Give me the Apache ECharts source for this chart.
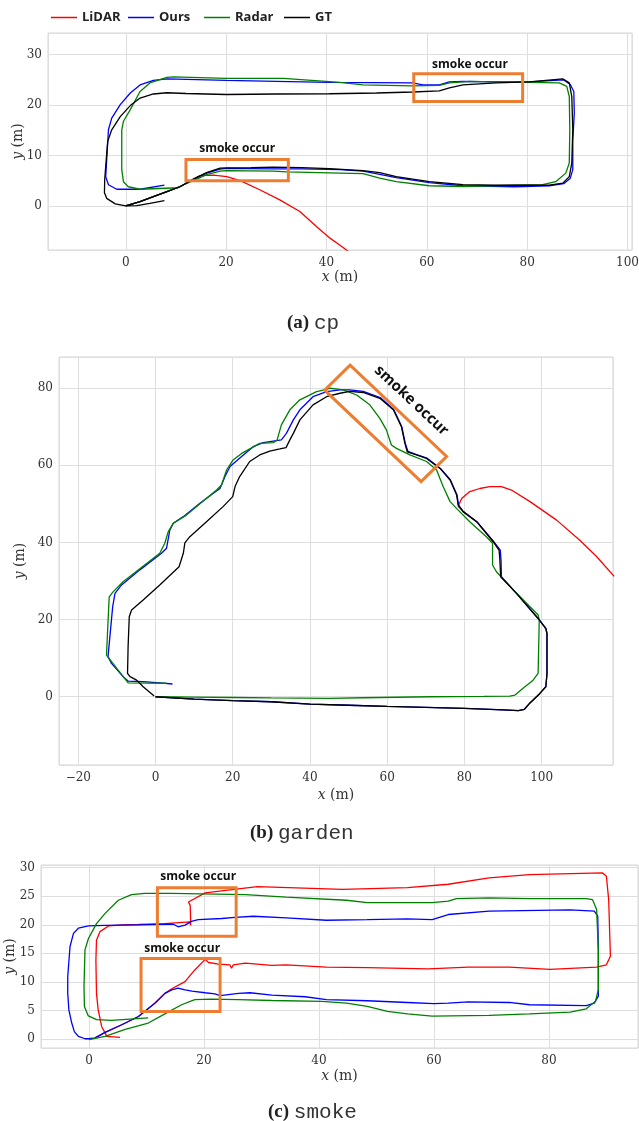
<!DOCTYPE html>
<html><head><meta charset="utf-8">
<script src="https://cdn.jsdelivr.net/npm/echarts@6/dist/echarts.min.js"></script>
<style>html,body{margin:0;padding:0;background:#fff}#c{width:639px;height:1121px}</style>
</head><body><div id="c"></div>
<script>
// ---------- names / colours ----------
const seriesNames = ['LiDAR', 'Ours', 'Radar', 'GT'];
const seriesColors = ['#ff0000', '#0000ff', '#008000', '#000000'];
const captions = [['(a)', 'cp'], ['(b)', 'garden'], ['(c)', 'smoke']];
const annotationText = 'smoke occur';

// ---------- tick labels ----------
const cpXTicks = [0, 20, 40, 60, 80, 100];
const cpYTicks = [0, 10, 20, 30];
const gardenXTicks = [-20, 0, 20, 40, 60, 80, 100];
const gardenYTicks = [0, 20, 40, 60, 80];
const smokeXTicks = [0, 20, 40, 60, 80];
const smokeYTicks = [0, 5, 10, 15, 20, 25, 30];

// ---------- (a) cp ----------
const cpLidar = [[0,0],[2.85,0.86],[5.5,1.85],[8.2,2.85],[10.8,3.8],[13.5,5.3],[14.8,6.0],[17.5,6.1],[20.1,5.8],[22.8,5.0],[26.7,3.2],[30.7,1.2],[34.7,-1.1],[38.0,-4.1],[40.7,-6.4],[42.7,-7.8],[44.6,-9.2]];
const cpOurs = [[0,0],[2.85,0.86],[5.5,1.85],[8.2,2.85],[10.8,3.8],[13.5,5.3],[16.1,6.5],[18.8,7.3],[20.1,7.45],[29.4,7.35],[35,7.35],[42.7,7.2],[47.3,6.9],[53.9,5.6],[60.5,4.6],[67.2,4.0],[77.5,3.8],[84.4,4.0],[87.3,4.4],[88.6,5.5],[89.1,7.2],[89.1,13.1],[89.4,18.4],[89.3,22.7],[88.6,24.1],[87.3,25.0],[80.4,24.6],[73.8,24.6],[67.2,24.7],[64.5,24.6],[62.5,24.0],[59.2,24.0],[57.2,24.4],[40.6,24.5],[30,24.7],[20.1,24.9],[8.2,25.2],[5.5,24.9],[2.85,24.0],[0.9,22.4],[-1.1,20.1],[-2.8,17.4],[-3.45,15.1],[-3.8,9.1],[-4.0,5.8],[-3.45,4.2],[-1.8,3.3],[2.85,3.3],[7.7,4.1]];
const cpRadar = [[0,0],[2.85,0.86],[5.5,1.85],[8.2,2.85],[10.8,3.9],[13.5,5.0],[16.1,6.2],[18.8,6.9],[20.1,7.0],[29.4,6.9],[32.1,6.75],[42.7,6.5],[47.3,6.4],[50.6,5.5],[53.9,4.8],[60.5,4.0],[67.2,3.85],[77.1,4.1],[83.1,4.2],[85.7,4.8],[87.7,6.5],[88.4,8.5],[88.5,15.1],[88.4,21.7],[87.9,23.7],[86.4,24.4],[80.4,24.5],[73.8,24.6],[68.5,24.7],[64.5,24.4],[62.5,23.9],[57.2,23.8],[47.3,24.0],[42.7,24.5],[31.4,25.3],[20.1,25.3],[9.5,25.6],[8.2,25.5],[4.8,24.4],[2.85,22.7],[0.9,19.1],[-0.46,16.8],[-0.8,15.1],[-0.8,7.2],[-0.46,4.8],[0.5,3.8],[2.85,3.3],[10.5,3.6]];
const cpGT = [[0,0],[2.85,0.86],[5.5,1.85],[8.2,2.85],[10.8,3.8],[13.5,5.3],[16.1,6.6],[18.8,7.5],[20.1,7.55],[25,7.6],[29.4,7.7],[35,7.6],[40.6,7.4],[47.3,7.0],[50.6,6.6],[53.9,5.8],[60.5,4.8],[67.2,4.2],[73.8,4.1],[80.4,4.1],[84.4,4.1],[87.1,4.5],[88.4,5.8],[88.9,8.5],[89.1,15.1],[88.9,21.7],[88.4,24.4],[87.1,25.2],[80.4,24.6],[73.8,24.4],[67.2,24.0],[64.5,23.4],[62.5,22.8],[57.2,22.6],[50,22.4],[40.6,22.25],[30,22.2],[20.1,22.1],[12,22.3],[8.2,22.45],[5.5,22.2],[2.85,21.4],[0.9,19.9],[-1.1,17.7],[-2.8,15.1],[-3.6,12.8],[-3.9,9.1],[-4.2,5.2],[-4.25,2.6],[-3.8,1.5],[-2.1,0.4],[0,0],[2.2,0.07],[4.8,0.5],[7.7,1.06]];
const cpBoxes = [
  [[12.0,9.2],[32.4,9.2],[32.4,5.0],[12.0,5.0],[12.0,9.2],[32.4,9.2]],
  [[57.4,26.2],[79.1,26.2],[79.1,20.7],[57.4,20.7],[57.4,26.2],[79.1,26.2]]
];
const cpLabels = [[22.2,11.3],[68.6,28.1]];

// ---------- (b) garden ----------
const gardenLidar = [[89.0,38.0],[87.5,40.2],[83.2,45.4],[79.7,48.0],[78.4,49.4],[79.3,51.4],[81.4,53.2],[84.0,54.0],[86.6,54.5],[89.6,54.5],[92.2,53.6],[97.0,50.6],[103.9,45.8],[109.9,40.6],[114.3,36.3],[118.8,31.2]];
const gardenOurs = [[0,0],[10,-0.6],[20,-1.0],[30,-1.3],[40,-1.9],[50,-2.2],[60,-2.5],[70,-2.75],[80,-3.0],[90,-3.4],[94,-3.6],[95.5,-3.3],[97,-1.6],[99.5,0.8],[101.1,2.6],[101.4,6.0],[101.4,16.4],[101.1,17.7],[99.1,20.3],[93.5,26.8],[89.6,31.1],[89.5,35.4],[89.3,38.0],[87.6,40.2],[83.2,45.4],[79.7,48.0],[78.5,49.7],[78.1,52.3],[76.4,56.2],[73.8,59.2],[70.3,61.9],[67.6,62.8],[65.4,63.6],[64.7,65.7],[63.8,70.0],[61.7,74.5],[58.2,77.6],[53.8,79.2],[50.3,79.6],[47.8,79.55],[44.3,79.1],[40.8,77.8],[37.4,74.4],[35.7,71.8],[33.9,68.3],[32.6,66.6],[30.5,66.3],[27.9,65.9],[25.3,64.85],[22.3,62.3],[19.3,59.7],[18.0,57.1],[16.7,54.0],[14.9,52.7],[11.5,50.15],[7.2,46.7],[4.6,45.0],[3.7,43.2],[2.85,38.5],[1.55,37.2],[-4.06,32.9],[-8.8,29.0],[-10.5,26.8],[-11.1,23.3],[-12.3,10.4],[-11.4,8.65],[-8.4,5.2],[-7.1,4.06],[-3.2,3.9],[1.1,3.6],[4.4,3.3]];
const gardenRadar = [[0,0],[10,-0.1],[20,-0.2],[30,-0.3],[45,-0.4],[53.8,-0.26],[71.1,0],[85,0.1],[91.8,0.17],[93.1,0.43],[95.2,2.2],[97.8,4.3],[99.1,6.05],[99.4,19.9],[99.1,21.2],[97.0,23.35],[92.7,27.7],[88.3,32.4],[87.3,34.15],[87.3,39.8],[85.7,41.5],[81.4,45.4],[78.4,48.4],[76.3,50.6],[74.5,54.5],[72.8,58.8],[70.2,61.0],[65.9,62.7],[62.4,64.4],[61.1,65.3],[59.8,69.2],[58.1,72.2],[55.5,75.7],[52.1,78.25],[48.6,79.55],[45.2,80.0],[44.3,79.7],[41.7,79.1],[37.4,77.0],[34.8,74.4],[32.6,70.5],[31.5,66.6],[30.5,65.9],[27.0,65.7],[22.3,63.1],[20.1,61.4],[18.4,58.8],[17.1,54.9],[15.8,53.6],[8.0,47.1],[4.6,45.0],[3.3,42.8],[2.4,39.8],[1.1,37.2],[-8.4,29.8],[-11.0,27.2],[-12.0,25.9],[-12.7,10.8],[-7.1,3.6],[2.85,3.5]];
const gardenGT = [[0,0],[10,-0.6],[20,-1.0],[30,-1.3],[40,-1.9],[50,-2.2],[60,-2.5],[70,-2.75],[80,-3.0],[90,-3.4],[94,-3.6],[95.5,-3.3],[97,-1.6],[99.5,0.8],[101.1,2.6],[101.4,6.0],[101.4,16.4],[101.1,17.7],[99.1,20.3],[93.5,26.8],[89.4,31.1],[89.2,35.4],[89.0,38.0],[87.5,40.2],[83.2,45.4],[79.7,48.0],[78.4,49.7],[78.0,52.3],[76.3,56.2],[73.7,59.2],[70.2,61.8],[67.6,62.7],[65.2,63.5],[64.6,65.7],[63.7,70.0],[61.6,74.4],[58.1,77.4],[53.8,78.9],[50.3,79.2],[47.8,78.7],[44.3,77.8],[40.8,75.7],[37.4,71.8],[35.7,68.3],[34.8,66.6],[33.8,64.6],[32.2,64.25],[29.6,63.7],[27.0,62.7],[24.4,61.0],[21.8,57.1],[20.6,54.5],[20.0,51.9],[17.5,49.3],[13.2,45.4],[8.9,41.5],[7.6,39.9],[7.2,37.2],[6.1,33.7],[1.1,29.0],[-3.2,25.1],[-6.2,22.5],[-6.8,20.75],[-7.1,13.0],[-7.25,6.05],[-6.6,5.2],[-4.9,4.3],[-3.2,2.6],[-0.35,0.17]];
const gardenBoxes = [
  [[50.4,86.0],[75.4,62.3],[68.8,55.8],[43.8,79.5],[50.4,86.0],[75.4,62.3]]
];
const gardenLabels = [[66.3,76.8]];

// ---------- (c) smoke ----------
const smokeLidar = [[0,0.05],[1.0,0.17],[2.8,1.16],[5.7,2.5],[8.6,3.95],[11.5,6.3],[13.2,8.0],[14.4,8.8],[16.7,10.05],[18.4,12.1],[20.2,13.95],[20.8,13.4],[22.5,13.1],[24.5,13.0],[24.8,12.4],[25.1,13.0],[27.2,13.3],[31.8,12.9],[34.3,13.0],[41.3,12.6],[48.4,12.5],[59.0,12.3],[66.0,12.6],[73.1,12.6],[80.2,12.2],[88.3,12.6],[90.0,13.0],[90.7,14.5],[90.4,24.4],[90.0,28.5],[89.3,29.1],[76.6,28.8],[69.6,28.2],[62.5,27.1],[55.4,26.5],[44.1,26.2],[29.3,26.7],[26.0,26.3],[20.2,25.6],[17.3,24.0],[17.6,23.4],[17.7,19.9],[17.5,20.5],[13.2,20.2],[8.6,20.05],[5.7,20.0],[3.4,19.8],[1.9,18.8],[1.3,17.3],[1.2,13.8],[1.3,8.0],[1.6,5.1],[2.2,2.2],[3.1,0.46],[5.4,0.28]];
const smokeOurs = [[0,0.05],[1.0,0.17],[2.8,1.16],[5.7,2.5],[8.6,3.95],[11.5,6.3],[13.2,8.0],[14.4,8.6],[15.5,8.9],[16.7,8.6],[17.9,8.4],[20.2,8.1],[21.9,7.9],[22.8,7.6],[26.0,8.0],[28,8.1],[31.8,7.7],[37.6,7.4],[41.3,6.9],[48.4,6.7],[55.4,6.4],[60,6.2],[62.5,6.3],[66.0,6.5],[73.1,6.4],[76.6,6.0],[86.5,5.85],[87.9,6.3],[88.6,7.5],[88.6,15.7],[88.5,21.5],[87.9,22.4],[83.7,22.6],[69.6,22.4],[62.5,21.8],[59.7,20.9],[55.4,21.05],[48.4,20.9],[41.3,20.8],[34.3,21.2],[28.6,21.5],[25.4,21.3],[23.1,21.1],[19.0,20.9],[17.8,20.6],[16.7,19.95],[15.5,19.65],[14.7,20.1],[13.2,20.1],[8.6,20.0],[2.8,19.9],[-0.1,19.8],[-1.85,19.4],[-2.7,18.5],[-3.3,16.2],[-3.7,10.9],[-3.7,8.0],[-3.5,5.1],[-3.0,2.8],[-2.55,1.3],[-1.85,0.46],[-0.7,0.05],[0,0.05]];
const smokeRadar = [[0,-0.1],[2.8,0.46],[6.3,1.7],[10.3,2.8],[13.2,4.4],[16.1,6.0],[18.4,6.9],[21.3,7.0],[26.0,6.9],[31.8,6.75],[40.5,6.6],[44.8,6.3],[48.4,5.7],[51.9,4.85],[55.4,4.4],[59.7,4.0],[69.6,4.15],[76.6,4.4],[83.7,4.7],[86.5,5.3],[88.1,6.6],[88.6,8.65],[88.6,15.7],[88.3,22.7],[87.6,24.4],[86.5,24.6],[76.6,24.6],[69.6,24.7],[63.9,24.6],[62.5,24.15],[59.7,23.9],[48.4,23.9],[44.8,24.3],[34.3,24.85],[27.2,25.3],[14.4,25.5],[9.7,25.5],[7.4,25.3],[5.1,24.3],[2.8,22.0],[1.3,20.2],[-0.1,17.6],[-0.7,15.6],[-0.87,9.2],[-0.8,5.7],[-0.12,4.05],[1.33,3.4],[3.9,3.25],[10.3,3.7]];
const smokeBoxes = [
  [[11.9,26.5],[25.6,26.5],[25.6,18.0],[11.9,18.0],[11.9,26.5],[25.6,26.5]],
  [[9.05,14.1],[22.8,14.1],[22.8,4.8],[9.05,4.8],[9.05,14.1],[22.8,14.1]]
];
const smokeLabels = [[19.0,28.4],[16.2,15.9]];

// ---------- build ----------
const SERIF = 'DejaVu Serif';
const SANS = 'Open Sans';
const panels = [
  { grid: {left: 48, top: 33, width: 584, height: 217}, x: [-15.5, 100.9, 20, cpXTicks], y: [-8.75, 34.3, 10, cpYTicks],
    data: [cpLidar, cpOurs, cpRadar, cpGT], boxes: cpBoxes, labels: cpLabels, rot: 0, labelSize: 12, xGap: 20, yGap: 23 },
  { grid: {left: 59, top: 357, width: 554, height: 408}, x: [-25.0, 118.5, 20, gardenXTicks], y: [-17.7, 88.1, 20, gardenYTicks],
    data: [gardenLidar, gardenOurs, gardenRadar, gardenGT], boxes: gardenBoxes, labels: gardenLabels, rot: -43, labelSize: 15, xGap: 23, yGap: 32 },
  { grid: {left: 41, top: 865, width: 597, height: 183}, x: [-8.35, 95.5, 20, smokeXTicks], y: [-1.57, 30.47, 5, smokeYTicks],
    data: [smokeLidar, smokeOurs, smokeRadar, null], boxes: smokeBoxes, labels: smokeLabels, rot: 0, labelSize: 12, xGap: 21, yGap: 24 }
];

function fmt(list) {
  return function (v) {
    const r = Math.round(v * 1000) / 1000;
    if (list.indexOf(r) < 0) return '';
    return r < 0 ? '\u2212' + (-r) : String(r);
  };
}
const nameRich = { i: { fontStyle: 'italic', fontFamily: SERIF, fontSize: 14, color: '#333' } };
function axis(idx, ext, pos, name, gap, margin) {
  return {
    type: 'value', gridIndex: idx, position: pos, min: ext[0], max: ext[1],
    minInterval: ext[2], maxInterval: ext[2],
    name: name, nameLocation: 'middle', nameGap: gap, nameMoveOverlap: false,
    nameTextStyle: { fontFamily: SERIF, fontSize: 14, color: '#333', rich: nameRich },
    axisLine: { show: false }, axisTick: { show: false },
    axisLabel: { formatter: fmt(ext[3]), fontFamily: SERIF, fontSize: 12, color: '#333', margin: margin },
    splitLine: { show: true, lineStyle: { color: '#dedede', width: 1 } }
  };
}

const grids = [], xAxes = [], yAxes = [], series = [];
panels.forEach((p, i) => {
  grids.push(Object.assign({ show: true, borderColor: '#d6d6d6', borderWidth: 1, containLabel: false, outerBoundsMode: 'none' }, p.grid));
  xAxes.push(axis(i, p.x, 'bottom', '{i|x} (m)', p.xGap, 7));
  yAxes.push(axis(i, p.y, 'left', '{i|y} (m)', p.yGap, 6));
  p.data.forEach((d, k) => {
    if (!d) return;
    series.push({
      type: 'line', name: seriesNames[k], xAxisIndex: i, yAxisIndex: i, data: d,
      symbol: 'none', showSymbol: false, smooth: false, animation: false, clip: true, z: 2 + k,
      lineStyle: { color: seriesColors[k], width: 1.3 }, itemStyle: { color: seriesColors[k] }
    });
  });
  p.boxes.forEach(b => {
    series.push({
      type: 'line', name: 'box', xAxisIndex: i, yAxisIndex: i, data: b, symbol: 'none', animation: false, z: 10,
      lineStyle: { color: '#ED7D31', width: 3, join: 'miter' }, silent: true
    });
  });
  series.push({
    type: 'scatter', name: 'label', xAxisIndex: i, yAxisIndex: i, data: p.labels, symbolSize: 1,
    itemStyle: { color: 'rgba(0,0,0,0)' }, animation: false, silent: true, z: 11,
    labelLayout: { hideOverlap: false },
    label: { show: true, position: 'inside', formatter: annotationText, rotate: p.rot, opacity: 1,
      fontFamily: SANS, fontWeight: 'bold', fontSize: p.labelSize, color: '#111' }
  });
});

const legendLefts = [51, 128, 204, 284];
const legends = seriesNames.map((n, k) => ({
  data: [n], left: legendLefts[k], top: 11, padding: 0, icon: 'rect', itemWidth: 26, itemHeight: 1.5, itemGap: 0,
  textStyle: { fontFamily: SANS, fontWeight: 'bold', fontSize: 13, color: '#222' }, selectedMode: false
}));

const capLefts = [287, 250, 268];
const capTops = [313, 823, 1102];
const titles = captions.map((c, i) => ({
  text: '{b|' + c[0] + '}{s| }{m|' + c[1] + '}', left: capLefts[i], top: capTops[i], padding: 0,
  textStyle: { fontWeight: 'normal', rich: {
    b: { fontFamily: 'Liberation Serif', fontWeight: 'bold', fontSize: 19, color: '#222' },
    s: { fontFamily: 'Liberation Serif', fontWeight: 'normal', fontSize: 19, color: '#222' },
    m: { fontFamily: 'Liberation Mono', fontWeight: 'normal', fontSize: 21, color: '#333' } } }
}));

const chart = echarts.init(document.getElementById('c'), null, { renderer: 'canvas' });
chart.setOption({
  backgroundColor: '#ffffff', animation: false,
  title: titles, legend: legends, grid: grids, xAxis: xAxes, yAxis: yAxes, series: series
});
</script></body></html>
